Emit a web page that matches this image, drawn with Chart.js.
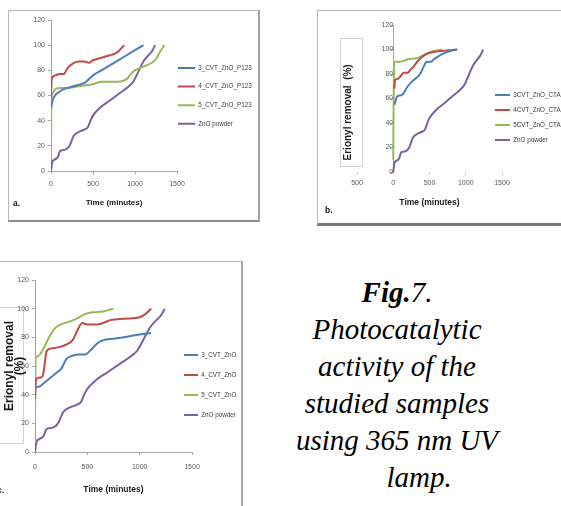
<!DOCTYPE html>
<html>
<head>
<meta charset="utf-8">
<script src="https://cdn.jsdelivr.net/npm/chart.js@4.4.1/dist/chart.umd.min.js"></script>
<style>
  body { margin: 0; width: 561px; height: 506px; overflow: hidden; background: #fff; position: relative; }
  .frame { position: absolute; background: #fff; border: 1px solid #b8b8b8; }
  .wrap { position: absolute; }
  .tag { position: absolute; font: bold 8.5px 'Liberation Sans', Arial, sans-serif; color: #111; }
  .ybox { position: absolute; border: 1px solid #d4d4d4; }
  #caption { position: absolute; left: 277px; top: 274px; width: 240px; text-align: center;
    font: italic 29px/37px 'Liberation Serif', 'Times New Roman', serif; color: #000; }
</style>
</head>
<body>
<div class="frame" style="left:8px;top:10px;width:249px;height:209px;border-bottom:2px solid #8c8c8c;border-right:2px solid #a0a0a0;"></div>
<div class="frame" style="left:317px;top:10px;width:270px;height:212px;border-bottom:3px solid #7a7a7a;"></div>
<div class="frame" style="left:-5px;top:261px;width:245px;height:260px;border-right:2px solid #a8a8a8;"></div>
<div class="ybox" style="left:340px;top:38px;width:21px;height:127px;"></div>
<div class="ybox" style="left:-2px;top:307px;width:24px;height:135px;"></div>

<div class="wrap" style="left:10px;top:10px;width:250px;height:205px;"><canvas id="chartA"></canvas></div>
<div class="wrap" style="left:318px;top:12px;width:260px;height:212px;"><canvas id="chartB"></canvas></div>
<div class="wrap" style="left:0px;top:262px;width:240px;height:244px;"><canvas id="chartC"></canvas></div>

<div class="tag" style="left:13px;top:198px;">a.</div>
<div class="tag" style="left:325px;top:205px;">b.</div>
<div class="tag" style="left:-3px;top:485px;">c.</div>

<div id="caption">
  <div><b>Fig.</b>7.</div>
  <div>Photocatalytic</div>
  <div>activity of the</div>
  <div>studied samples</div>
  <div>using 365 nm UV</div>
  <div style="position:relative;left:22px;">lamp.</div>
</div>

<script>
// ZnO powder, same run in all three panels
const timeZnO = [0, 15, 40, 80, 110, 170, 220, 270, 330, 400, 440, 470, 500, 580, 700, 820, 920, 980, 1040, 1100, 1160, 1200, 1240];
const remZnO  = [0, 7, 9, 11, 16, 17, 20, 28, 31, 33, 35, 40, 44, 50, 56, 62, 67, 71, 79, 87, 92, 95, 100];

// a. P123 samples
const timeA3 = [0, 15, 30, 60, 100, 150, 200, 300, 400, 500, 600, 700, 800, 900, 1000, 1100];
const remA3  = [50, 55, 58, 61, 63, 65, 66, 68, 70, 76, 80, 84, 88, 92, 96, 100];
const timeA4 = [0, 8, 50, 100, 150, 200, 250, 330, 400, 450, 500, 600, 700, 750, 800, 870];
const remA4  = [58, 73, 76, 77, 77, 82, 85, 87, 87, 86, 88, 90, 92, 93, 95, 100];
const timeA5 = [0, 5, 20, 50, 100, 200, 300, 400, 500, 600, 700, 800, 900, 950, 1000, 1100, 1200, 1250, 1300, 1350];
const remA5  = [18, 60, 62, 65, 66, 66, 67, 68, 69, 71, 71, 71, 73, 77, 80, 83, 86, 89, 95, 100];

// b. CTAB samples
const timeB3 = [20, 40, 60, 120, 200, 260, 300, 370, 420, 460, 520, 560, 640, 700, 800, 880];
const remB3  = [55, 60, 62, 63, 70, 74, 76, 80, 86, 90, 90, 92, 95, 97, 99, 100];
const timeB4 = [15, 25, 60, 100, 140, 200, 230, 280, 330, 380, 450, 550, 700, 880];
const remB4  = [68, 75, 76, 78, 81, 81, 83, 86, 90, 93, 96, 98, 99, 100];
const timeB5 = [0, 10, 20, 100, 200, 330, 400, 470, 550, 680];
const remB5  = [10, 88, 90, 90, 92, 93, 95, 97, 98.5, 100];

// c. plain CVT samples
const timeC3 = [0, 50, 100, 200, 250, 300, 350, 420, 480, 530, 600, 650, 750, 850, 950, 1110];
const remC3  = [45, 46, 49, 55, 58, 65, 67, 68, 68, 71, 76, 78, 79, 80, 81.5, 83];
const timeC4 = [0, 10, 60, 80, 110, 140, 220, 300, 360, 400, 450, 500, 600, 650, 720, 850, 1000, 1050, 1110];
const remC4  = [37, 51, 52, 55, 70, 72, 73, 75, 78, 84, 90, 89, 89, 90, 92, 93, 94, 96, 100];
const timeC5 = [0, 5, 30, 80, 120, 150, 200, 250, 330, 400, 470, 550, 650, 700, 750];
const remC5  = [20, 65, 67, 72, 78, 82, 87, 89, 91, 93, 96, 97.5, 98, 99, 100];

const namesA = ['3_CVT_ZnO_P123', '4_CVT_ZnO_P123', '5_CVT_ZnO_P123', 'ZnO powder'];
const namesB = ['3CVT_ZnO_CTAB', '4CVT_ZnO_CTAB', '5CVT_ZnO_CTAB', 'ZnO powder'];
const namesC = ['3_CVT_ZnO', '4_CVT_ZnO', '5_CVT_ZnO', 'ZnO powder'];
const timeTicks = [0, 500, 1000, 1500];
const colors = ['#4a7ebb', '#be4b48', '#98b954', '#7d60a0'];

Chart.defaults.font.family = "'Liberation Sans', Arial, sans-serif";
Chart.defaults.color = '#595959';

// move the legend to a fixed spot (legend sits in 'chartArea' mode so it takes no room)
const legendPlace = {
    id: 'legendPlace',
    afterLayout(chart, args, opts) {
        const lg = chart.legend;
        if (!lg || opts.x === undefined) return;
        const w = lg.width, h = lg.height;
        lg.left = opts.x; lg.right = opts.x + w;
        lg.top = opts.y; lg.bottom = opts.y + h;
    }
};

function series(names, times, rems) {
    return names.map((name, i) => ({
        label: name,
        data: times[i].map((t, j) => ({ x: t, y: rems[i][j] })),
        borderColor: colors[i],
        backgroundColor: colors[i],
        borderWidth: 2,
        pointRadius: 0,
        cubicInterpolationMode: 'monotone',
        fill: false
    }));
}

function makeChart(id, datasets, o) {
    const scales = {
        x: {
            type: 'linear',
            min: o.xmin,
            max: 1500,
            afterBuildTicks: s => { s.ticks = o.xticks.map(v => ({ value: v })); },
            ticks: {
                font: { size: 7 },
                padding: o.xpad,
                callback: v => String(Math.abs(v))
            },
            grid: { drawOnChartArea: false, drawTicks: true, tickLength: 3, color: o.xline },
            border: { display: o.xborder, color: o.xline },
            title: {
                display: true,
                text: 'Time (minutes)',
                font: { size: o.xtSize, weight: 'bold' },
                color: '#1a1a1a',
                padding: 0
            },
            afterFit: s => { s.height = o.xh; }
        },
        y: {
            min: 0,
            max: 120,
            position: o.ypos,
            ticks: { stepSize: 20, font: { size: 7 }, padding: 3 },
            grid: { drawOnChartArea: false, drawTicks: true, tickLength: 3, color: '#a6a6a6' },
            border: { color: '#a6a6a6' },
            title: o.ytitle,
            afterFit: s => { s.width = o.yw; }
        }
    };
    if (o.titleAxis) {
        scales.yt = o.titleAxis;
    }
    return new Chart(document.getElementById(id), {
        type: 'line',
        data: { datasets: datasets },
        options: {
            responsive: true,
            maintainAspectRatio: false,
            animation: false,
            layout: { padding: o.pad },
            plugins: {
                legend: {
                    position: 'chartArea',
                    align: 'start',
                    labels: {
                        usePointStyle: true,
                        pointStyle: 'line',
                        pointStyleWidth: o.lineLen,
                        padding: o.legendGap,
                        font: { size: 6.3 },
                        color: '#404040'
                    }
                },
                tooltip: { enabled: false },
                legendPlace: { x: o.lx, y: o.ly }
            },
            scales: scales
        },
        plugins: [legendPlace]
    });
}

makeChart('chartA', series(namesA, [timeA3, timeA4, timeA5, timeZnO], [remA3, remA4, remA5, remZnO]), {
    pad: { left: 21, top: 10, right: 83, bottom: 7.2 },
    xmin: 0, xticks: timeTicks, xpad: 5.8, xline: '#a6a6a6', xborder: true, xtSize: 8, xh: 36.8,
    ypos: 'left', yw: 20, ytitle: { display: false },
    lineLen: 17, legendGap: 12.3, lx: 155.7, ly: 42.55
});

// panel b: value axis crosses at time 0, its title sits on a separate bare axis at the far left
makeChart('chartB', series(namesB, [timeB3, timeB4, timeB5, timeZnO], [remB3, remB4, remB5, remZnO]), {
    pad: { left: 24, top: 13, right: 76, bottom: 15.9 },
    xmin: -500, xticks: [-500].concat(timeTicks), xpad: 3.8, xline: '#d0d0d0', xborder: false, xtSize: 8.5, xh: 36.1,
    ypos: { x: 0 }, yw: 30, ytitle: { display: false },
    titleAxis: {
        type: 'linear',
        position: 'left',
        ticks: { display: false },
        grid: { display: false },
        border: { display: false },
        title: {
            display: true,
            text: 'Erionyl removal  (%)          ',
            font: { size: 10, weight: 'bold' },
            color: '#1a1a1a',
            padding: 0
        },
        afterFit: s => { s.width = 15; }
    },
    lineLen: 15, legendGap: 8.7, lx: 168.3, ly: 71.15
});

makeChart('chartC', series(namesC, [timeC3, timeC4, timeC5, timeZnO], [remC3, remC4, remC5, remZnO]), {
    pad: { left: 0, top: 18, right: 48, bottom: 10.9 },
    xmin: 0, xticks: timeTicks, xpad: 7.8, xline: '#a6a6a6', xborder: true, xtSize: 8.5, xh: 43.1,
    ypos: 'left', yw: 35,
    ytitle: {
        display: true,
        text: ['Erionyl removal', '(%)'],
        font: { size: 12, weight: 'bold', lineHeight: '10px' },
        color: '#1a1a1a',
        padding: { top: 5, bottom: 0 }
    },
    lineLen: 14, legendGap: 13.7, lx: 170.3, ly: 76.15
});
</script>
</body>
</html>
